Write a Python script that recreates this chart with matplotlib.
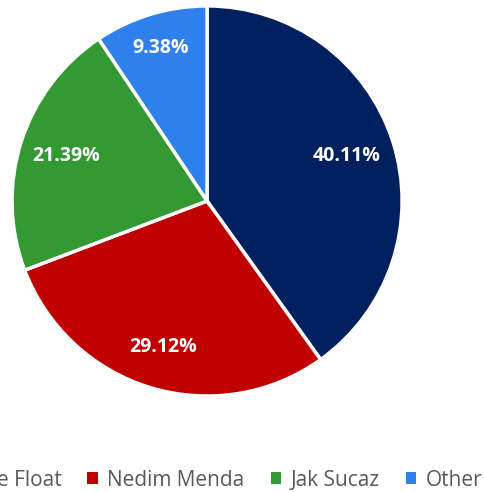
import numpy as np
import matplotlib.pyplot as plt
from matplotlib.patches import Patch

holders = ['Free Float', 'Nedim Menda', 'Jak Sucaz', 'Other']
shares = [40.11, 29.12, 21.39, 9.38]
colors = ['#002060', '#C00000', '#339933', '#2F80ED']
label_radius = [0.75, 0.78, 0.76, 0.82]

plt.rcParams['font.family'] = ['Open Sans', 'DejaVu Sans']

fig = plt.figure(figsize=(4.84, 4.92), dpi=100)
ax = fig.add_axes([0.0248, 0.195, 0.806, 0.793])

wedges, texts, autotexts = ax.pie(
    shares, colors=colors, startangle=90, counterclock=False,
    autopct='%.2f%%', pctdistance=0.77,
    wedgeprops=dict(edgecolor='white', linewidth=2.5),
    textprops=dict(color='white', fontsize=14, fontweight='bold'))

# push each percentage label out along its wedge's bisector
for w, t, r in zip(wedges, autotexts, label_radius):
    mid = np.deg2rad((w.theta1 + w.theta2) / 2)
    t.set_position((r * np.cos(mid), r * np.sin(mid)))

ax.set_xlim(-1, 1)
ax.set_ylim(-1, 1)
ax.set_aspect('equal')

handles = [Patch(facecolor=c, edgecolor='none') for c in colors]
fig.legend(handles, holders, loc='center right',
           bbox_to_anchor=(482 / 484, 1 - 480 / 492), ncol=4,
           frameon=False, fontsize=15, labelcolor='#595959',
           handlelength=0.5, handleheight=0.5, handletextpad=0.45,
           columnspacing=1.25, borderpad=0, borderaxespad=0)

fig.savefig('out.png', dpi=100)
